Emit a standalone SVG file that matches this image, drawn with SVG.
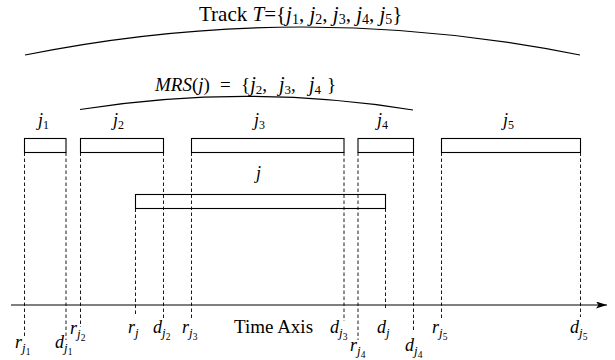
<svg xmlns="http://www.w3.org/2000/svg" width="615" height="360" viewBox="0 0 615 360">
<style>
.box{fill:none;stroke:#000;stroke-width:1.1}
.dash{fill:none;stroke:#000;stroke-width:0.9;stroke-dasharray:3.5 2.5}
.arc{fill:none;stroke:#000;stroke-width:1.2}
.axis{fill:none;stroke:#000;stroke-width:1.2}
text{font-family:"Liberation Serif","Times New Roman",serif;fill:#000}
.it{font-style:italic}
.lbl{font-size:18px}
.s1{font-size:12px}
.s2{font-size:13px}
.s3{font-size:9.5px}
</style>
<defs>
<marker id="arr" markerUnits="userSpaceOnUse" markerWidth="12" markerHeight="8" refX="11" refY="3.5" orient="auto">
<path d="M0,0 L11,3.5 L0,7 L2.5,3.5 Z" fill="#000"/>
</marker>
</defs>
<rect width="615" height="360" fill="#fff"/>

<g id="arcs">
<path class="arc" d="M25,55 Q302.5,-1 580,55"/>
<path class="arc" d="M80,109.5 Q246.5,83 413,110"/>
<text id="title" font-size="21" x="199" y="21">Track <tspan class="it">T</tspan>={<tspan class="it">j</tspan><tspan font-size="14" y="24">1</tspan><tspan y="21">, </tspan><tspan class="it">j</tspan><tspan font-size="14" y="24">2</tspan><tspan y="21">, </tspan><tspan class="it">j</tspan><tspan font-size="14" y="24">3</tspan><tspan y="21">, </tspan><tspan class="it">j</tspan><tspan font-size="14" y="24">4</tspan><tspan y="21">, </tspan><tspan class="it">j</tspan><tspan font-size="14" y="24">5</tspan><tspan y="21">}</tspan></text>
<text id="mrs" font-size="19" x="155" y="91"><tspan class="it">MRS</tspan>(<tspan class="it">j</tspan>) <tspan x="220">=</tspan> <tspan x="241">{</tspan><tspan class="it" font-size="20">j</tspan><tspan font-size="13" y="94">2</tspan><tspan y="91">, </tspan><tspan class="it" font-size="20" x="279">j</tspan><tspan font-size="13" y="94">3</tspan><tspan y="91">, </tspan><tspan class="it" font-size="20" x="309">j</tspan><tspan font-size="13" y="94">4</tspan><tspan y="91" x="327">}</tspan></text>
</g>

<g id="connectors">
<line class="dash" x1="24.5" y1="152.5" x2="24.5" y2="337"/>
<line class="dash" x1="66" y1="152.5" x2="66" y2="340"/>
<line class="dash" x1="80.5" y1="152.5" x2="80.5" y2="327"/>
<line class="dash" x1="163.5" y1="152.5" x2="163.5" y2="318"/>
<line class="dash" x1="191.5" y1="152.5" x2="191.5" y2="318"/>
<line class="dash" x1="344" y1="152.5" x2="344" y2="321"/>
<line class="dash" x1="358" y1="152.5" x2="358" y2="340"/>
<line class="dash" x1="413.5" y1="152.5" x2="413.5" y2="331"/>
<line class="dash" x1="441.5" y1="152.5" x2="441.5" y2="318"/>
<line class="dash" x1="580.5" y1="152.5" x2="580.5" y2="317"/>
<line class="dash" x1="135.5" y1="208.5" x2="135.5" y2="315"/>
<line class="dash" x1="385.5" y1="208.5" x2="385.5" y2="310"/>
</g>

<g id="job1"><rect class="box" x="24.5" y="138.5" width="41.5" height="14"/>
<text class="lbl" y="126"><tspan class="it" x="38">j</tspan><tspan class="s1" y="129">1</tspan></text></g>
<g id="job2"><rect class="box" x="80.5" y="138.5" width="83" height="14"/>
<text class="lbl" y="126"><tspan class="it" x="113">j</tspan><tspan class="s1" y="129">2</tspan></text></g>
<g id="job3"><rect class="box" x="191.5" y="138.5" width="152.5" height="14"/>
<text class="lbl" y="126"><tspan class="it" x="254">j</tspan><tspan class="s1" y="129">3</tspan></text></g>
<g id="job4"><rect class="box" x="358" y="138.5" width="55.5" height="14"/>
<text class="lbl" y="126"><tspan class="it" x="377">j</tspan><tspan class="s1" y="129">4</tspan></text></g>
<g id="job5"><rect class="box" x="441.5" y="138.5" width="139" height="14"/>
<text class="lbl" y="126"><tspan class="it" x="503">j</tspan><tspan class="s1" y="129">5</tspan></text></g>
<g id="jobj"><rect class="box" x="135.5" y="194.5" width="250" height="14"/>
<text class="lbl it" x="256" y="179">j</text></g>

<g id="axis">
<line class="axis" x1="11" y1="305" x2="607" y2="305" marker-end="url(#arr)"/>
<text font-size="19" x="234" y="333">Time Axis</text>
</g>

<g id="ticks">
<text class="lbl" y="348"><tspan class="it" x="15">r</tspan><tspan class="s2 it" y="352">j</tspan><tspan class="s3" y="354.5">1</tspan></text>
<text class="lbl" y="348"><tspan class="it" x="55">d</tspan><tspan class="s2 it" y="352">j</tspan><tspan class="s3" y="354.5">1</tspan></text>
<text class="lbl" y="334"><tspan class="it" x="70">r</tspan><tspan class="s2 it" y="338">j</tspan><tspan class="s3" y="340.5">2</tspan></text>
<text class="lbl" y="333"><tspan class="it" x="128">r</tspan><tspan class="s2 it" y="337">j</tspan></text>
<text class="lbl" y="333"><tspan class="it" x="153">d</tspan><tspan class="s2 it" y="337">j</tspan><tspan class="s3" y="339.5">2</tspan></text>
<text class="lbl" y="333"><tspan class="it" x="182">r</tspan><tspan class="s2 it" y="337">j</tspan><tspan class="s3" y="339.5">3</tspan></text>
<text class="lbl" y="333"><tspan class="it" x="330">d</tspan><tspan class="s2 it" y="337">j</tspan><tspan class="s3" y="339.5">3</tspan></text>
<text class="lbl" y="351"><tspan class="it" x="350">r</tspan><tspan class="s2 it" y="355">j</tspan><tspan class="s3" y="357.5">4</tspan></text>
<text class="lbl" y="333"><tspan class="it" x="377">d</tspan><tspan class="s2 it" y="337">j</tspan></text>
<text class="lbl" y="351"><tspan class="it" x="405">d</tspan><tspan class="s2 it" y="355">j</tspan><tspan class="s3" y="357.5">4</tspan></text>
<text class="lbl" y="333"><tspan class="it" x="432">r</tspan><tspan class="s2 it" y="337">j</tspan><tspan class="s3" y="339.5">5</tspan></text>
<text class="lbl" y="333"><tspan class="it" x="570">d</tspan><tspan class="s2 it" y="337">j</tspan><tspan class="s3" y="339.5">5</tspan></text>
</g>
</svg>
